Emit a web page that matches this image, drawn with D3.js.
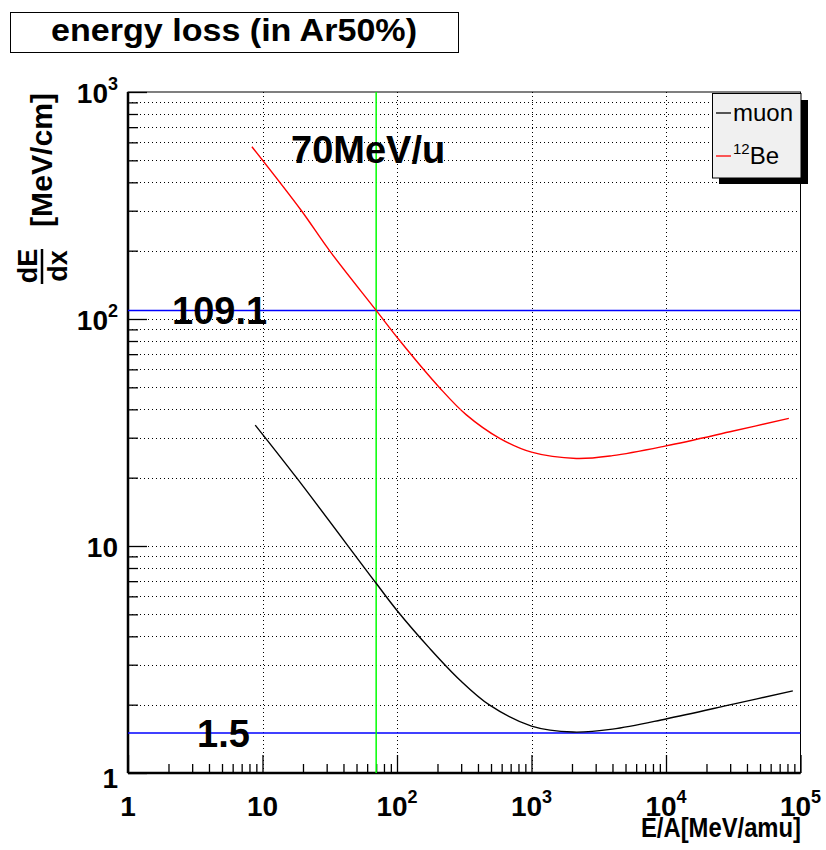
<!DOCTYPE html>
<html>
<head>
<meta charset="utf-8">
<script src="https://cdn.jsdelivr.net/npm/d3@7"></script>
<style>
  html, body { margin: 0; padding: 0; background: #fff; }
  svg { display: block; font-family: "Liberation Sans", Arial, Helvetica, sans-serif; }
</style>
</head>
<body>
<svg id="chart" width="826" height="850"></svg>
<script>
// ---------- data ----------
const titleText = "energy loss (in Ar50%)";
const xTitle = "E/A[MeV/amu]";
const yTitleUnit = "[MeV/cm]";

// 12Be curve (E/A in MeV/u, dE/dx in MeV/cm)
const beX = [8.34, 19.3, 31.7, 70, 105, 208, 328, 580, 1000, 2155, 4000, 10000, 31600, 81900];
const beY = [574, 302, 199, 109.1, 80.2, 49.7, 37.8, 29.8, 25.9, 24.3, 25.0, 27.6, 32.1, 36.5];

// muon curve
const muX = [8.83, 17.9, 70, 100, 175, 293, 489, 1000, 2035, 4000, 10000, 31600, 87700];
const muY = [34.1, 20, 6.85, 5.2, 3.54, 2.57, 1.99, 1.61, 1.515, 1.56, 1.73, 2.01, 2.30];

// reference lines
const hLineValues = [109.1, 1.5];
const hLineLabels = ["109.1", "1.5"];
const vLineValue = 70;
const vLineLabel = "70MeV/u";

// tick labels
const xTickValues = [1, 10, 100, 1000, 10000, 100000];
const xTickBase = ["1", "10", "10", "10", "10", "10"];
const xTickExp = ["", "", "2", "3", "4", "5"];
const yTickValues = [1, 10, 100, 1000];
const yTickBase = ["1", "10", "10", "10"];
const yTickExp = ["", "", "2", "3"];

const legendNames = ["muon", "Be"];
const legendSup = ["", "12"];
const legendColors = ["#000000", "#ff0000"];

// ---------- layout ----------
const svg = d3.select("#chart");
const L = 128, R = 800.5, T = 92, B = 773;

const x = d3.scaleLog().domain([1, 1e5]).range([L, R]);
const y = d3.scaleLog().domain([1, 1000]).range([B, T]);

// title box
svg.append("rect").attr("x", 10.5).attr("y", 12.5).attr("width", 448).attr("height", 40)
  .attr("fill", "#fff").attr("stroke", "#000").attr("stroke-width", 1);
svg.append("text").attr("x", 234).attr("y", 41).attr("text-anchor", "middle")
  .attr("font-size", 31).attr("font-weight", "bold")
  .attr("textLength", 366).attr("lengthAdjust", "spacingAndGlyphs")
  .text(titleText);

// grid
const yGridVals = [];
for (let d = 1; d < 1000; d *= 10) for (let k = 1; k <= 9; k++) { const v = d * k; if (v > 1 && v < 1000) yGridVals.push(v); }
const xGridVals = [10, 100, 1000, 10000];
const grid = svg.append("g").attr("stroke", "#000").attr("stroke-width", 1).attr("stroke-dasharray", "1,3");
grid.selectAll("line.h").data(yGridVals).join("line").attr("class", "h")
  .attr("x1", L).attr("x2", R).attr("y1", d => Math.round(y(d)) + 0.5).attr("y2", d => Math.round(y(d)) + 0.5);
grid.selectAll("line.v").data(xGridVals).join("line").attr("class", "v")
  .attr("y1", T).attr("y2", B).attr("x1", d => Math.round(x(d)) + 0.5).attr("x2", d => Math.round(x(d)) + 0.5);

// frame
svg.append("rect").attr("x", L).attr("y", T).attr("width", R - L).attr("height", B - T)
  .attr("fill", "none").attr("stroke", "#000").attr("stroke-width", 1);

// axis ticks (inward)
const xMinor = [], yMinor = [];
for (let d = 1; d < 1e5; d *= 10) for (let k = 2; k <= 9; k++) xMinor.push(d * k);
for (let d = 1; d < 1000; d *= 10) for (let k = 2; k <= 9; k++) yMinor.push(d * k);
const xAxis = d3.axisBottom(x).tickValues(xMinor).tickSize(-9).tickFormat("");
const xAxisMaj = d3.axisBottom(x).tickValues(xTickValues).tickSize(-18).tickFormat("");
const yAxis = d3.axisLeft(y).tickValues(yMinor).tickSize(-10).tickFormat("");
const yAxisMaj = d3.axisLeft(y).tickValues(yTickValues).tickSize(-19).tickFormat("");
[xAxis, xAxisMaj].forEach(a => {
  const g = svg.append("g").attr("transform", `translate(0,${B})`).call(a);
  g.select(".domain").remove();
  g.selectAll("line").attr("stroke", "#000").attr("stroke-width", 1.3);
});
[yAxis, yAxisMaj].forEach(a => {
  const g = svg.append("g").attr("transform", `translate(${L},0)`).call(a);
  g.select(".domain").remove();
  g.selectAll("line").attr("stroke", "#000").attr("stroke-width", 1.3);
});
svg.append("line").attr("x1", L).attr("x2", R).attr("y1", B).attr("y2", B).attr("stroke", "#000").attr("stroke-width", 2.5);
svg.append("line").attr("x1", L).attr("x2", L).attr("y1", T).attr("y2", B).attr("stroke", "#000").attr("stroke-width", 2.5);

// x tick labels
xTickValues.forEach((v, i) => {
  const t = svg.append("text").attr("x", x(v)).attr("y", 816).attr("text-anchor", "middle")
    .attr("font-size", 28).attr("font-weight", "bold");
  t.append("tspan").text(xTickBase[i]);
  if (xTickExp[i]) t.append("tspan").attr("font-size", 18).attr("dy", -13).text(xTickExp[i]);
});
// y tick labels
yTickValues.forEach((v, i) => {
  const t = svg.append("text").attr("x", 118).attr("y", y(v) + (v === 1 ? 15 : 11)).attr("text-anchor", "end")
    .attr("font-size", 28).attr("font-weight", "bold");
  t.append("tspan").text(yTickBase[i]);
  if (yTickExp[i]) t.append("tspan").attr("font-size", 18).attr("dy", -13).text(yTickExp[i]);
});

// axis titles
svg.append("text").attr("x", 801).attr("y", 837).attr("text-anchor", "end")
  .attr("font-size", 27).attr("font-weight", "bold")
  .attr("textLength", 160).attr("lengthAdjust", "spacingAndGlyphs").text(xTitle);
const yt = svg.append("g").attr("transform", "rotate(-90)");
yt.append("text").attr("x", -93).attr("y", 52).attr("text-anchor", "end")
  .attr("font-size", 30).attr("font-weight", "bold")
  .attr("textLength", 134).attr("lengthAdjust", "spacingAndGlyphs").text(yTitleUnit);
yt.append("text").attr("x", -266).attr("y", 37).attr("text-anchor", "middle")
  .attr("font-size", 27).attr("font-weight", "bold").text("dE");
yt.append("line").attr("x1", -249).attr("x2", -284).attr("y1", 42).attr("y2", 42)
  .attr("stroke", "#000").attr("stroke-width", 2.5);
yt.append("text").attr("x", -266).attr("y", 67).attr("text-anchor", "middle")
  .attr("font-size", 27).attr("font-weight", "bold").text("dx");

// reference lines
svg.append("clipPath").attr("id", "plotclip").append("rect")
  .attr("x", L).attr("y", T).attr("width", R - L).attr("height", B - T);
const plot = svg.append("g").attr("clip-path", "url(#plotclip)");
plot.selectAll("line.href").data(hLineValues).join("line").attr("class", "href")
  .attr("x1", L).attr("x2", R).attr("y1", d => y(d)).attr("y2", d => y(d))
  .attr("stroke", "#0000ff").attr("stroke-width", 1.5);
plot.append("line").attr("x1", x(vLineValue)).attr("x2", x(vLineValue)).attr("y1", T).attr("y2", B)
  .attr("stroke", "#00ff00").attr("stroke-width", 1.5);

// curves
const line = d3.line().x(d => x(d[0])).y(d => y(d[1])).curve(d3.curveCatmullRom.alpha(0.5));
plot.append("path").datum(beX.map((v, i) => [v, beY[i]])).attr("d", line)
  .attr("fill", "none").attr("stroke", "#ff0000").attr("stroke-width", 1.4);
plot.append("path").datum(muX.map((v, i) => [v, muY[i]])).attr("d", line)
  .attr("fill", "none").attr("stroke", "#000000").attr("stroke-width", 1.4);

// annotation labels
svg.append("text").attr("x", 291).attr("y", 163).attr("font-size", 38).attr("font-weight", "bold").text(vLineLabel);
svg.append("text").attr("x", 172).attr("y", y(hLineValues[0]) + 13.5).attr("font-size", 38).attr("font-weight", "bold").text(hLineLabels[0]);
svg.append("text").attr("x", 197).attr("y", y(hLineValues[1]) + 13.5).attr("font-size", 38).attr("font-weight", "bold").text(hLineLabels[1]);

// legend
svg.append("rect").attr("x", 719).attr("y", 100).attr("width", 89).attr("height", 84).attr("fill", "#000");
svg.append("rect").attr("x", 712.5).attr("y", 93.5).attr("width", 88.5).attr("height", 84.5)
  .attr("fill", "#f0f0f0").attr("stroke", "#000").attr("stroke-width", 1);
const legY = [113, 156];
legendNames.forEach((n, i) => {
  svg.append("line").attr("x1", 716).attr("x2", 731).attr("y1", legY[i]).attr("y2", legY[i])
    .attr("stroke", legendColors[i]).attr("stroke-width", 1.3);
  const t = svg.append("text").attr("x", 733).attr("y", legY[i] + 8).attr("font-size", 24);
  if (legendSup[i]) {
    t.append("tspan").attr("font-size", 15).attr("dy", -10).text(legendSup[i]);
    t.append("tspan").attr("dy", 10).text(n);
  } else {
    t.text(n);
  }
});
</script>
</body>
</html>
